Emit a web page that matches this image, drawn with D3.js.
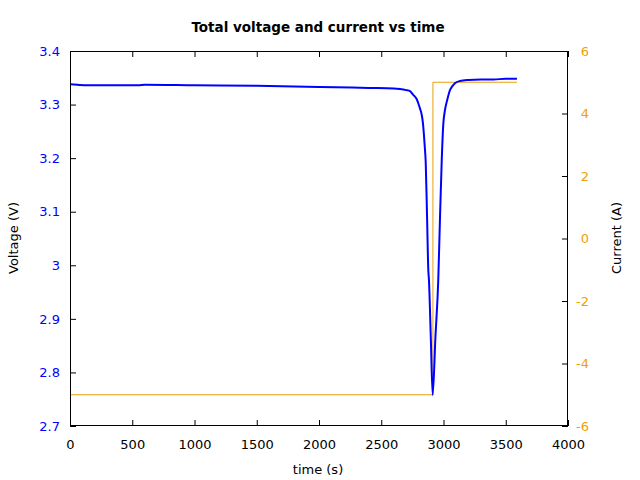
<!DOCTYPE html>
<html>
<head>
<meta charset="utf-8">
<script src="https://cdn.jsdelivr.net/npm/d3@7"></script>
<style>
body{margin:0;background:#fff;}
text{font-family:"DejaVu Sans",sans-serif;}
</style>
</head>
<body>
<svg id="chart" width="640" height="480"></svg>
<script>
const voltTime = [0,60,150,300,550,600,1000,1500,2000,2400,2600,2650,2700,2731,2757,2785,2798,2812,2825,2835,2843,2850,2857,2868,2878,2883,2898,2913,2935,2958,2972,2986,2998,3012,3026,3040,3052,3070,3092,3132,3200,3300,3400,3500,3590];
const voltage  = [3.338,3.337,3.336,3.336,3.336,3.337,3.336,3.335,3.333,3.331,3.330,3.329,3.327,3.325,3.318,3.310,3.302,3.292,3.281,3.265,3.243,3.220,3.193,3.090,2.991,2.973,2.865,2.758,2.865,2.973,3.090,3.197,3.262,3.290,3.305,3.318,3.327,3.334,3.340,3.344,3.346,3.347,3.347,3.348,3.348];
const currTime = [0,2915,2915,3590];
const current  = [-5,-5,5,5];
const xTicks = [0,500,1000,1500,2000,2500,3000,3500,4000];
const yTicks = [2.7,2.8,2.9,3.0,3.1,3.2,3.3,3.4];
const y2Ticks = [-6,-4,-2,0,2,4,6];

const svg = d3.select("#chart");
const L=70,R=568,T=51,B=426;
const x = d3.scaleLinear().domain([0,4000]).range([L,R]);
const y = d3.scaleLinear().domain([2.7,3.4]).range([B,T]);
const y2 = d3.scaleLinear().domain([-6,6]).range([B,T]);
const blue="#0000ff", orange="#f0a000", orangeLine="#e8a010";
const FS = 13;

// title
svg.append("text").attr("x",318).attr("y",32).attr("text-anchor","middle")
  .attr("font-size",13.5).attr("font-weight","bold").text("Total voltage and current vs time");

// current line
const currData = currTime.map((t,i)=>[t,current[i]]);
svg.append("path").datum(currData)
  .attr("d", d3.line().x(d=>x(d[0])).y(d=>y2(d[1])))
  .attr("fill","none").attr("stroke",orangeLine).attr("stroke-width",1);

// voltage line
const vData = voltTime.map((t,i)=>[t,voltage[i]]);
svg.append("path").datum(vData)
  .attr("d", d3.line().x(d=>x(d[0])).y(d=>y(d[1])).curve(d3.curveMonotoneX))
  .attr("fill","none").attr("stroke",blue).attr("stroke-width",2).attr("stroke-linejoin","round");

// frame
svg.append("rect").attr("x",L+0.5).attr("y",T+0.5).attr("width",R-L-1).attr("height",B-T-1)
  .attr("fill","none").attr("stroke","#000").attr("stroke-width",1);

// bottom axis (ticks inward)
const xb = svg.append("g").attr("transform",`translate(0,${B})`)
  .call(d3.axisBottom(x).tickValues(xTicks).tickSizeInner(-6).tickSizeOuter(0).tickPadding(14).tickFormat(d3.format("d")));
xb.select(".domain").remove();
xb.selectAll("text").attr("font-size",FS).attr("fill","#000").attr("font-family","DejaVu Sans");
xb.selectAll("line").attr("stroke","#000");
// top ticks
const xt = svg.append("g").attr("transform",`translate(0,${T})`)
  .call(d3.axisTop(x).tickValues(xTicks).tickSizeInner(-6).tickSizeOuter(0).tickFormat(""));
xt.select(".domain").remove();
xt.selectAll("line").attr("stroke","#000");

// left axis
const yl = svg.append("g").attr("transform",`translate(${L},0)`)
  .call(d3.axisLeft(y).tickValues(yTicks).tickSizeInner(-6).tickSizeOuter(0).tickPadding(16)
    .tickFormat(d=> d===3 ? "3" : d3.format(".1f")(d)));
yl.select(".domain").remove();
yl.selectAll("text").attr("font-size",FS).attr("fill",blue).attr("font-family","DejaVu Sans").attr("x",-10);
yl.selectAll("line").attr("stroke","#000");

// right axis
const yr = svg.append("g").attr("transform",`translate(${R},0)`)
  .call(d3.axisRight(y2).tickValues(y2Ticks).tickSizeInner(-6).tickSizeOuter(0).tickPadding(10)
    .tickFormat(d=> d<0 ? "-"+Math.abs(d) : String(d)));
yr.select(".domain").remove();
yr.selectAll("text").attr("font-size",FS).attr("fill",orange).attr("font-family","DejaVu Sans")
  .attr("text-anchor","end").attr("x",21);
yr.selectAll("line").attr("stroke","#000");

// axis titles
svg.append("text").attr("x",318).attr("y",474).attr("text-anchor","middle").attr("font-size",FS).text("time (s)");
svg.append("text").attr("transform","translate(18,238) rotate(-90)").attr("text-anchor","middle").attr("font-size",FS).text("Voltage (V)");
svg.append("text").attr("transform","translate(621,238) rotate(-90)").attr("text-anchor","middle").attr("font-size",FS).text("Current (A)");
</script>
</body>
</html>
